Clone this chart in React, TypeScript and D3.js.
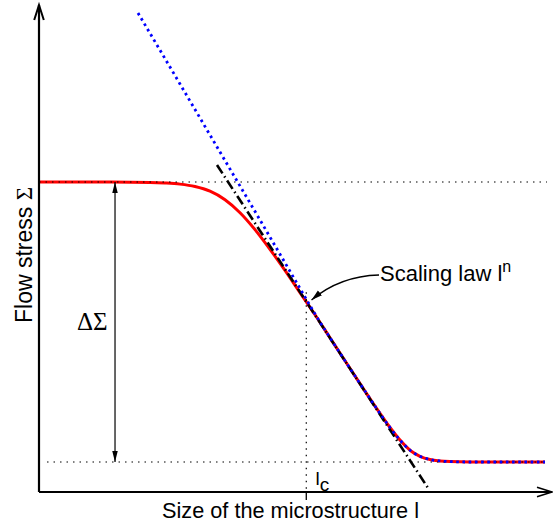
import React from "react";
import * as d3 from "d3";

// Abstract (log-log) units
const sizeDomain = [0, 100];
const stressDomain = [0, 100];

// Red: full model
const redSize = [0, 11.87, 21.6, 24.51, 27.43, 30.35, 33.27, 36.19, 39.11, 42.02, 44.94, 47.86, 50.78, 53.7, 56.61, 59.53, 62.45, 65.37, 68.29, 70.23, 72.37, 74.12, 76.07, 78.02, 79.96, 83.85, 98.44];
const redStress = [63.66, 63.66, 63.57, 63.45, 63.22, 62.73, 61.77, 60.02, 57.35, 53.88, 49.84, 45.5, 40.94, 36.39, 31.68, 26.96, 22.26, 17.64, 13.24, 10.66, 8.42, 7.33, 6.67, 6.37, 6.24, 6.16, 6.16];

// Blue: scaling law l^n
const blueSize = [19.26, 27.43, 35.21, 43.0, 50.78, 53.7, 56.61, 59.53, 62.45, 65.37, 68.29, 70.23, 72.37, 74.12, 76.07, 78.02, 79.96, 83.85, 98.44];
const blueStress = [98.36, 83.78, 69.82, 55.85, 41.79, 36.55, 31.68, 26.96, 22.26, 17.64, 13.24, 10.66, 8.42, 7.33, 6.67, 6.37, 6.24, 6.16, 6.16];

// Black dash-dot: tangent at l_c
const tangentSize = [34.63, 75.68];
const tangentStress = [67.15, 0.82];

const upperPlateau = 63.66;
const lowerPlateau = 6.16;
const criticalSize = 52.0;
const criticalStress = 41.0;
const guideEnd = 98.83;
const lowerGuideStart = 1.56;
const deltaSize = 14.79;

const W = 553;
const H = 527;

export default function App() {
  const x = d3.scaleLinear().domain(sizeDomain).range([39, 553]);
  const y = d3.scaleLinear().domain(stressDomain).range([492, 5]);

  const line = d3
    .line<[number, number]>()
    .x((d) => x(d[0]))
    .y((d) => y(d[1]))
    .curve(d3.curveMonotoneX);
  const straight = d3
    .line<[number, number]>()
    .x((d) => x(d[0]))
    .y((d) => y(d[1]));

  const red = redSize.map((s, i) => [s, redStress[i]] as [number, number]);
  const blue = blueSize.map((s, i) => [s, blueStress[i]] as [number, number]);
  const tangent = tangentSize.map((s, i) => [s, tangentStress[i]] as [number, number]);

  const x0 = x(0);
  const y0 = y(0);
  const dotted = { stroke: "#000", strokeWidth: 1.2, strokeDasharray: "1.5 5", fill: "none" };

  // annotation arrow (data coords)
  const aStart = [66.15, 44.56];
  const aCtrl = [58.56, 44.35];
  const aEnd = [53.02, 39.43];
  const annPath = `M${x(aStart[0])},${y(aStart[1])} Q${x(aCtrl[0])},${y(aCtrl[1])} ${x(aEnd[0])},${y(aEnd[1])}`;

  return (
    <svg
      width={W}
      height={H}
      style={{ position: "absolute", left: 0, top: 0, background: "#fff" }}
      fontFamily="'Liberation Sans', Arial, sans-serif"
    >
      <defs>
        <marker id="tri" markerUnits="userSpaceOnUse" markerWidth={12} markerHeight={6} refX={11} refY={3} orient="auto-start-reverse">
          <path d="M0,0.25 L11,3 L0,5.75 Z" fill="#000" />
        </marker>
        <marker id="tri2" markerUnits="userSpaceOnUse" markerWidth={12} markerHeight={8} refX={11} refY={4} orient="auto">
          <path d="M0,0.8 L11,4 L0,7.2 Z" fill="#000" />
        </marker>
      </defs>

      {/* red model curve */}
      <path d={line(red) ?? ""} stroke="#ff0000" strokeWidth={3} fill="none" strokeLinejoin="round" />

      {/* guide lines */}
      <line x1={x(0)} x2={x(guideEnd)} y1={y(upperPlateau)} y2={y(upperPlateau)} {...dotted} />
      <line x1={x(lowerGuideStart)} x2={x(guideEnd)} y1={y(lowerPlateau)} y2={y(lowerPlateau)} {...dotted} />
      <line x1={x(criticalSize)} x2={x(criticalSize)} y1={y(criticalStress)} y2={y0} {...dotted} />
      <line x1={x(criticalSize)} x2={x(criticalSize)} y1={y0} y2={y0 + 8} stroke="#000" strokeWidth={1.3} />

      {/* tangent dash-dot */}
      <path d={straight(tangent) ?? ""} stroke="#000" strokeWidth={2.6} strokeDasharray="10 3.5 1.5 3.5" fill="none" />

      {/* blue scaling law */}
      <path d={line(blue) ?? ""} stroke="#0000ff" strokeWidth={2.8} strokeDasharray="2.6 3.6" fill="none" />

      {/* ΔΣ arrow */}
      <line
        x1={x(deltaSize)}
        x2={x(deltaSize)}
        y1={y(upperPlateau)}
        y2={y(lowerPlateau)}
        stroke="#000"
        strokeWidth={1.2}
        markerStart="url(#tri)"
        markerEnd="url(#tri)"
      />
      <text x={77} y={330} fontFamily="'Liberation Serif', 'DejaVu Serif', serif" fontSize={25}>
        ΔΣ
      </text>

      {/* annotation */}
      <path d={annPath} stroke="#000" strokeWidth={1.3} fill="none" markerEnd="url(#tri2)" />
      <text x={380} y={281} fontSize={22}>
        Scaling law l
        <tspan fontSize={16} dy={-9}>n</tspan>
      </text>

      {/* l_c */}
      <text x={315.5} y={485} fontSize={19}>
        l<tspan fontSize={19} dy={6}>c</tspan>
      </text>

      {/* axes */}
      <line x1={x0} x2={x0} y1={y0} y2={5} stroke="#000" strokeWidth={2.2} />
      <line x1={x0} x2={552} y1={y0} y2={y0} stroke="#000" strokeWidth={2.2} />
      <path d={`M${x0 - 4.8},20 L${x0},5 L${x0 + 4.8},20`} stroke="#000" strokeWidth={2} fill="none" />
      <path d={`M537,${y0 - 4.8} L552,${y0} L537,${y0 + 4.8}`} stroke="#000" strokeWidth={1.6} fill="none" />

      {/* axis labels */}
      <text x={162} y={518} fontSize={21.5} textLength={257} lengthAdjust="spacingAndGlyphs">
        Size of the microstructure l
      </text>
      <text transform="translate(32,255) rotate(-90)" textAnchor="middle" fontSize={23}>
        Flow stress{" "}
        <tspan fontFamily="'Liberation Serif', 'DejaVu Serif', serif" fontSize={23}>Σ</tspan>
      </text>
    </svg>
  );
}
